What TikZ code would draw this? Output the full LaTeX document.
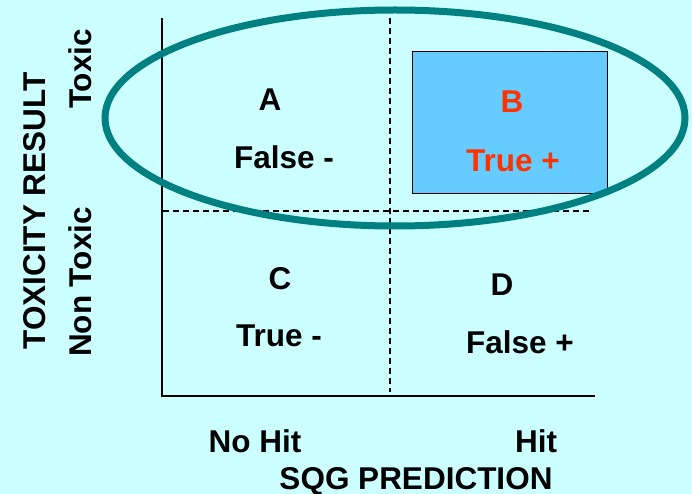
\documentclass[tikz,border=0pt]{standalone}
\usepackage{fontspec}
\setmainfont{Liberation Sans}
\definecolor{bgc}{HTML}{CCFFFF}
\definecolor{boxc}{HTML}{66CCFF}
\definecolor{redc}{HTML}{FF3300}
\definecolor{tealc}{HTML}{008080}
\begin{document}
\begin{tikzpicture}[x=1pt,y=-1pt,
  lbl/.style={inner sep=0pt,anchor=base,font=\fontsize{31.5}{38}\selectfont\bfseries},
  axis/.style={black,line width=1.5pt},
  grid/.style={black,line width=1.2pt,dash pattern=on 6pt off 4pt}]
\fill[bgc] (0,0) rectangle (692,494);
\useasboundingbox (0,0) rectangle (692,494);
% axes
\coordinate (ytop) at (162,18);
\coordinate (orig) at (162,396);
\coordinate (xend) at (595,396);
\draw[axis] (ytop) -- (orig) -- (xend);
% dashed dividers
\coordinate (vt) at (390,18);
\coordinate (vb) at (390,392);
\coordinate (hl) at (163,211);
\coordinate (hr) at (592,211);
\draw[grid] (vt) -- (vb);
\draw[grid] (hl) -- (hr);
% highlighted box
\draw[fill=boxc,draw=black,line width=1pt] (412,52) rectangle (607,194);
% ellipse
\draw[tealc,line width=7pt] (395,118) ellipse [x radius=290, y radius=108];
% cell labels
\node[lbl] (A) at (270,111) {A};
\node[lbl] (FN) at (284,169) {False -};
\node[lbl,text=redc] (B) at (512,113) {B};
\node[lbl,text=redc] (TP) at (513,172) {True +};
\node[lbl] (C) at (280,289) {C};
\node[lbl] (TN) at (279,346) {True -};
\node[lbl] (D) at (502,295) {D};
\node[lbl] (FP) at (520,353) {False +};
% axis labels
\node[lbl] (nohit) at (255,452) {No Hit};
\node[lbl] (hit) at (536,452) {Hit};
\node[lbl] (sqg) at (416,489) {SQG PREDICTION};
\node[lbl,rotate=90] (toxic) at (91,69) {Toxic};
\node[lbl,rotate=90] (nontoxic) at (91,282) {Non Toxic};
\node[lbl,rotate=90] (tox) at (45,211) {TOXICITY RESULT};
\end{tikzpicture}
\end{document}
